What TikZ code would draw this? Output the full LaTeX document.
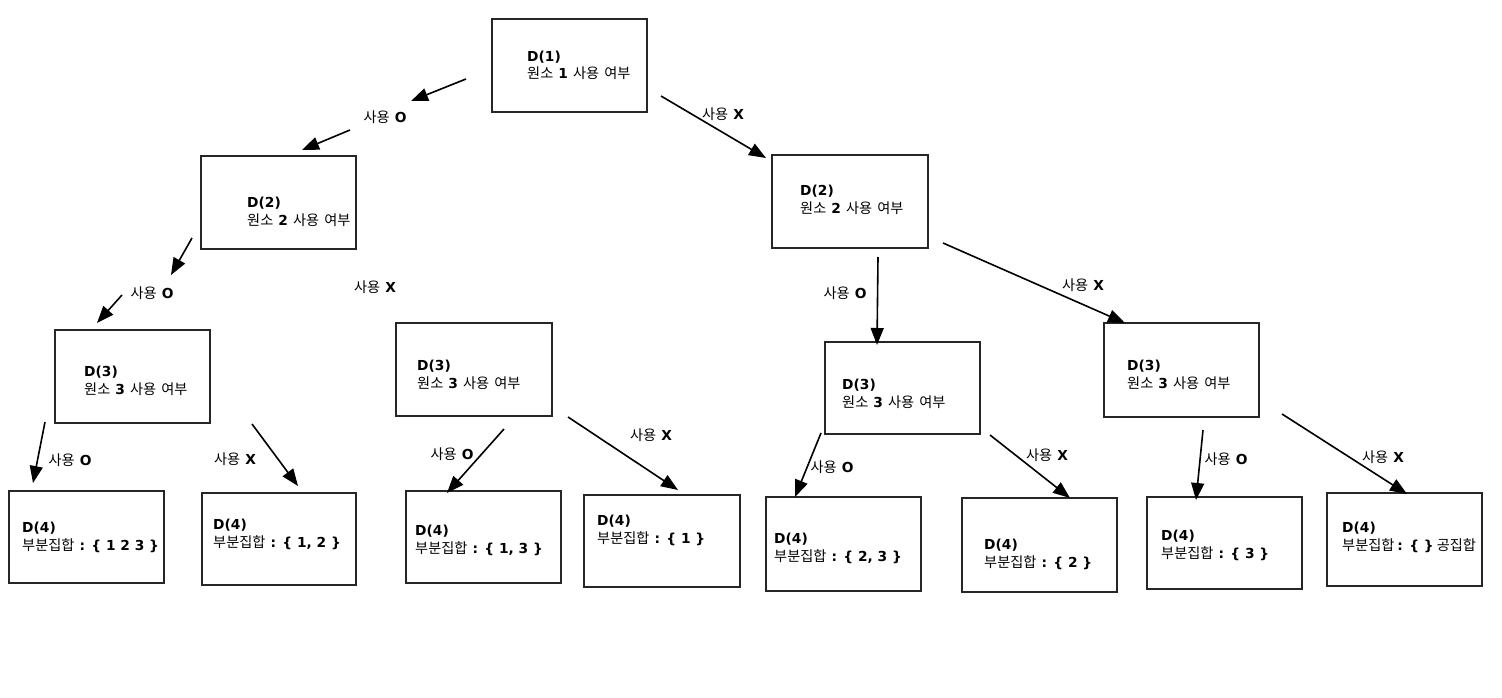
\documentclass[tikz,border=0pt]{standalone}
\usepackage{fontspec}
\setmainfont{Noto Sans CJK KR}[WordSpace=1.6]
\newfontfamily\latfont[Scale=0.97]{DejaVu Sans}
\newcommand\lt[1]{{\latfont\bfseries #1}}
\usetikzlibrary{arrows.meta}
\begin{document}
\begin{tikzpicture}[x=1pt,y=-1pt,
  box/.style={draw=black!85,line width=1.9pt},
  txt/.style={anchor=base west,align=left,inner sep=0pt,font=\fontsize{14.2}{17.5}\selectfont},
  lbl/.style={inner sep=0pt,font=\fontsize{14.2}{17}\selectfont},
  arr/.style={line width=1.6pt,-{Triangle[length=17pt,width=13pt]}}]
\fill[white] (0,0) rectangle (1502,698);
\useasboundingbox (0,0) rectangle (1502,698);
% boxes
\draw[box] (492,19) rectangle (647,112) coordinate (d1);
\draw[box] (201,156) rectangle (356,249) coordinate (d2l);
\draw[box] (772,155) rectangle (928,248) coordinate (d2r);
\draw[box] (55,330) rectangle (210,423) coordinate (d3a);
\draw[box] (396,323) rectangle (552,416) coordinate (d3b);
\draw[box] (825,342) rectangle (980,434) coordinate (d3c);
\draw[box] (1104,323) rectangle (1259,417) coordinate (d3d);
\draw[box] (9,491) rectangle (164,583) coordinate (d4a);
\draw[box] (202,493) rectangle (356,585) coordinate (d4b);
\draw[box] (406,491) rectangle (561,583) coordinate (d4c);
\draw[box] (584,495) rectangle (740,587) coordinate (d4d);
\draw[box] (766,497) rectangle (921,591) coordinate (d4e);
\draw[box] (962,498) rectangle (1117,592) coordinate (d4f);
\draw[box] (1147,497) rectangle (1302,589) coordinate (d4g);
\draw[box] (1327,493) rectangle (1482,586) coordinate (d4h);
% box texts (anchor = baseline of the second line)
\node[txt] (t1) at (527,79) {\lt{D(1)}\\원소 \lt{1} 사용 여부};
\node[txt] (t2l) at (247,225) {\lt{D(2)}\\원소 \lt{2} 사용 여부};
\node[txt] (t2r) at (800,213) {\lt{D(2)}\\원소 \lt{2} 사용 여부};
\node[txt] (t3a) at (84,394) {\lt{D(3)}\\원소 \lt{3} 사용 여부};
\node[txt] (t3b) at (417,388) {\lt{D(3)}\\원소 \lt{3} 사용 여부};
\node[txt] (t3c) at (842,407) {\lt{D(3)}\\원소 \lt{3} 사용 여부};
\node[txt] (t3d) at (1127,388) {\lt{D(3)}\\원소 \lt{3} 사용 여부};
\node[txt] (t4a) at (22,550) {\lt{D(4)}\\부분집합 \lt{: \{ 1 2 3 \}}};
\node[txt] (t4b) at (213,547) {\lt{D(4)}\\부분집합 \lt{: \{ 1, 2 \}}};
\node[txt] (t4c) at (415,553) {\lt{D(4)}\\부분집합 \lt{: \{ 1, 3 \}}};
\node[txt] (t4d) at (597,543) {\lt{D(4)}\\부분집합 \lt{: \{ 1 \}}};
\node[txt] (t4e) at (774,561) {\lt{D(4)}\\부분집합 \lt{: \{ 2, 3 \}}};
\node[txt] (t4f) at (984,567) {\lt{D(4)}\\부분집합 \lt{: \{ 2 \}}};
\node[txt] (t4g) at (1161,558) {\lt{D(4)}\\부분집합 \lt{: \{ 3 \}}};
\node[txt] (t4h) at (1342,550) {\lt{D(4)}\\부분집합\hspace{3pt}\lt{: \{ \}}\hspace{3pt}공집합};
% arrow end points
\coordinate (a1s) at (466,79);   \coordinate (a1e) at (411,101);
\coordinate (a2s) at (350,130);  \coordinate (a2e) at (302,150);
\coordinate (a3s) at (661,96);   \coordinate (a3e) at (766,158);
\coordinate (a4s) at (192,238);  \coordinate (a4e) at (171,275);
\coordinate (a5s) at (122,295);  \coordinate (a5e) at (97,323);
\coordinate (a6s) at (878,257);  \coordinate (a6e) at (877,345);
\coordinate (a7s) at (943,243);  \coordinate (a7e) at (1125,323);
\coordinate (a8s) at (45,422);   \coordinate (a8e) at (33,483);
\coordinate (a9s) at (252,424);  \coordinate (a9e) at (298,486);
\coordinate (a10s) at (504,429); \coordinate (a10e) at (447,493);
\coordinate (a11s) at (568,417); \coordinate (a11e) at (678,490);
\coordinate (a12s) at (821,433); \coordinate (a12e) at (795,497);
\coordinate (a13s) at (990,435); \coordinate (a13e) at (1070,498);
\coordinate (a14s) at (1203,430);\coordinate (a14e) at (1196,500);
\coordinate (a15s) at (1282,414);\coordinate (a15e) at (1407,494);
\foreach \i in {1,...,15} {\draw[arr] (a\i s) -- (a\i e);}
% labels
\node[lbl] (l1) at (385,117) {사용 \lt{O}};
\node[lbl] (l3) at (723,114) {사용 \lt{X}};
\node[lbl] (l4) at (152,293) {사용 \lt{O}};
\node[lbl] (l5) at (375,287) {사용 \lt{X}};
\node[lbl] (l6) at (845,293) {사용 \lt{O}};
\node[lbl] (l7) at (1083,285) {사용 \lt{X}};
\node[lbl] (l8) at (70,460) {사용 \lt{O}};
\node[lbl] (l9) at (235,459) {사용 \lt{X}};
\node[lbl] (l10) at (452,454) {사용 \lt{O}};
\node[lbl] (l11) at (651,435) {사용 \lt{X}};
\node[lbl] (l12) at (832,467) {사용 \lt{O}};
\node[lbl] (l13) at (1047,455) {사용 \lt{X}};
\node[lbl] (l14) at (1226,459) {사용 \lt{O}};
\node[lbl] (l15) at (1383,457) {사용 \lt{X}};
\end{tikzpicture}
\end{document}
